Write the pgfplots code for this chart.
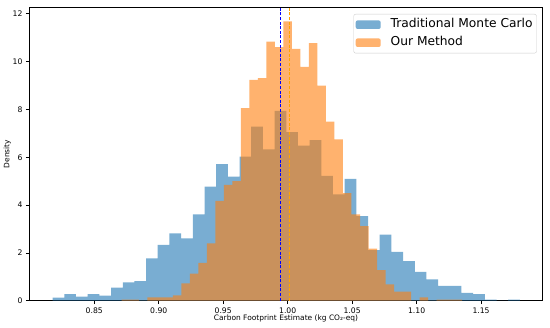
\documentclass[border=0pt]{standalone}
\usepackage{fontspec}
\setmainfont{DejaVu Sans}
\usepackage{pgfplots}
\pgfplotsset{compat=1.18}
\definecolor{tabblue}{RGB}{31,119,180}
\definecolor{taborange}{RGB}{255,127,14}
\definecolor{mplorange}{RGB}{255,165,0}
\begin{document}
\begin{tikzpicture}
\begin{axis}[
  scale only axis, width=513.4bp, height=293.4bp,
  xmin=0.7996, xmax=1.1978, ymin=0, ymax=12.27,
  axis line style={line width=0.6bp, black},
  tick pos=left, tick align=outside, major tick length=3.3bp,
  tick style={line width=0.6bp, black},
  xtick={0.85,0.90,0.95,1.00,1.05,1.10,1.15},
  ytick={0,2,4,6,8,10,12},
  /pgf/number format/assume math mode=true,
  x tick label style={/pgf/number format/fixed, /pgf/number format/fixed zerofill, /pgf/number format/precision=2},
  ticklabel style={font=\fontsize{7.7}{9}\selectfont},
  label style={font=\fontsize{7.5}{9}\selectfont},
  xlabel={Carbon Footprint Estimate (kg CO₂-eq)},
  ylabel={Density},
  xlabel style={at={(axis description cs:0.5,-0.0596)}, anchor=center},
  ylabel style={at={(axis description cs:-0.0428,0.5)}, anchor=center},
  legend style={at={(0.9883,0.9772)}, anchor=north east, draw=black!20, rounded corners=2bp,
    fill=white, fill opacity=0.8, text opacity=1, font=\fontsize{12.3}{14}\selectfont,
    inner xsep=2bp, inner ysep=1.5bp, row sep=0pt,
    nodes={inner xsep=2bp, inner ysep=3.3bp, text height=8.8bp, text depth=2.6bp},
    /tikz/every odd column/.append style={column sep=8bp},
    cells={anchor=west}},
  legend image code/.code={\fill[#1, draw=none] (3bp,-4.3bp) rectangle (28bp,4.3bp);},
]
\addplot[ybar interval, fill=tabblue, fill opacity=0.6, draw=none] coordinates {
(0.8177,0.13) (0.8268,0.28) (0.8358,0.17) (0.8449,0.28) (0.8539,0.21)
(0.8630,0.55) (0.8721,0.77) (0.8811,0.82) (0.8902,1.77) (0.8992,2.33)
(0.9083,2.82) (0.9174,2.61) (0.9264,3.61) (0.9355,4.77) (0.9445,5.71)
(0.9536,5.19) (0.9627,6.03) (0.9717,7.28) (0.9808,6.33) (0.9898,7.94)
(0.9989,7.05) (1.0080,6.49) (1.0170,6.71) (1.0261,5.22) (1.0351,4.45)
(1.0442,5.09) (1.0533,3.54) (1.0623,2.12) (1.0714,2.76) (1.0804,2.04)
(1.0895,1.66) (1.0986,1.21) (1.1076,0.89) (1.1167,0.62) (1.1257,0.62)
(1.1348,0.33) (1.1439,0.28) (1.1529,0.05) (1.1620,0) (1.1710,0.05)
(1.1801,0.05)};
\addlegendentry{Traditional Monte Carlo}
\addplot[ybar interval, fill=taborange, fill opacity=0.6, draw=none] coordinates {
(0.8713,0.05) (0.8779,0.05) (0.8845,0) (0.8911,0.14) (0.8977,0.14)
(0.9043,0.14) (0.9109,0.22) (0.9175,0.72) (0.9241,1.13) (0.9307,1.58)
(0.9373,2.40) (0.9439,4.17) (0.9505,4.84) (0.9571,5.00) (0.9637,8.05)
(0.9703,9.24) (0.9769,9.31) (0.9835,10.83) (0.9901,10.60) (0.9967,11.68)
(1.0033,10.53) (1.0099,9.78) (1.0165,10.77) (1.0231,8.99) (1.0297,7.49)
(1.0363,6.75) (1.0429,4.50) (1.0495,3.61) (1.0561,3.12) (1.0627,2.18)
(1.0693,1.28) (1.0759,0.68) (1.0825,0.38) (1.0891,0.38) (1.0957,0)
(1.1023,0.14) (1.1089,0) (1.1155,0.05) (1.1221,0.05) (1.1287,0.05)
(1.1353,0.05)};
\addlegendentry{Our Method}
\addplot[blue, line width=1bp, dash pattern=on 3bp off 1.6bp, forget plot] coordinates {(0.9942,0) (0.9942,12.27)};
\addplot[mplorange, line width=1bp, dash pattern=on 3bp off 1.6bp, forget plot] coordinates {(1.0012,0) (1.0012,12.27)};
\end{axis}
\path ([shift={(-29.3bp,-27.3bp)}]current axis.south west) rectangle ([shift={(7.3bp,7.3bp)}]current axis.north east);
\end{tikzpicture}
\end{document}
